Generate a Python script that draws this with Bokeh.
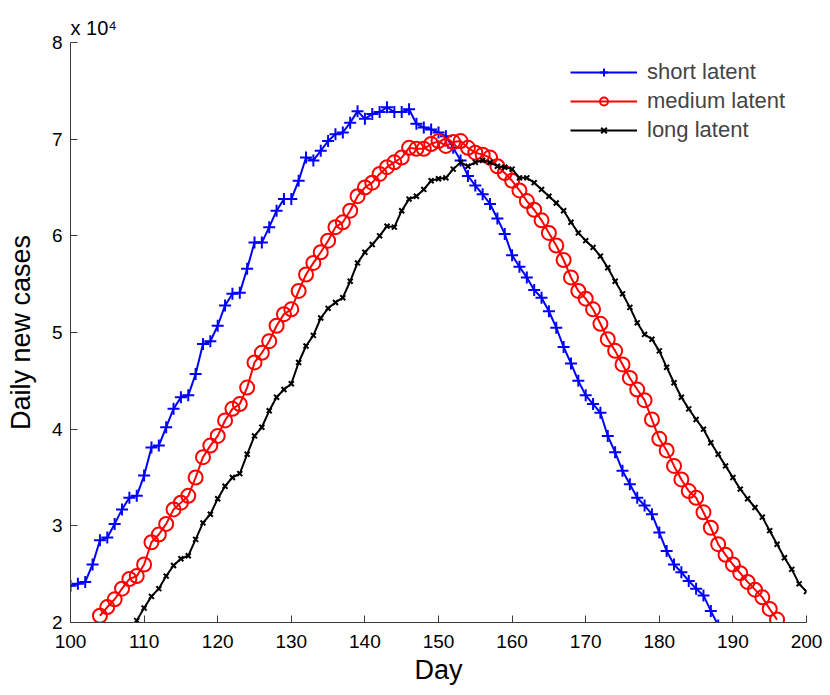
from bokeh.plotting import figure
from bokeh.models import Range1d, FixedTicker, Legend, LegendItem, Title
from bokeh.embed import file_html
from bokeh.resources import INLINE

# ---- data (daily new cases, in units of 10^4) ----
short_days = list(range(100, 189))
short_vals = [2.38, 2.40, 2.42, 2.60, 2.85, 2.88, 3.02, 3.17, 3.29, 3.31,
              3.52, 3.81, 3.83, 4.02, 4.21, 4.33, 4.35, 4.57, 4.88, 4.91,
              5.07, 5.28, 5.40, 5.41, 5.66, 5.93, 5.93, 6.09, 6.26, 6.38,
              6.38, 6.57, 6.81, 6.78, 6.88, 6.98, 7.05, 7.07, 7.17, 7.29,
              7.21, 7.26, 7.28, 7.33, 7.28, 7.28, 7.31, 7.16, 7.12, 7.10,
              7.07, 7.03, 6.91, 6.78, 6.62, 6.52, 6.43, 6.33, 6.18, 6.02,
              5.80, 5.68, 5.57, 5.44, 5.36, 5.22, 5.05, 4.85, 4.68, 4.50,
              4.35, 4.26, 4.17, 3.93, 3.76, 3.57, 3.43, 3.29, 3.21, 3.12,
              2.93, 2.74, 2.60, 2.52, 2.43, 2.35, 2.28, 2.12, 1.97]

medium_days = list(range(104, 197))
medium_vals = [2.07, 2.16, 2.24, 2.35, 2.45, 2.48, 2.60, 2.83, 2.91, 3.02,
               3.17, 3.24, 3.31, 3.50, 3.71, 3.83, 3.93, 4.09, 4.21, 4.26,
               4.43, 4.69, 4.79, 4.91, 5.07, 5.19, 5.24, 5.43, 5.60, 5.72,
               5.83, 5.95, 6.09, 6.14, 6.26, 6.41, 6.50, 6.55, 6.64, 6.71,
               6.76, 6.81, 6.91, 6.90, 6.90, 6.95, 6.98, 6.93, 6.97, 6.98,
               6.91, 6.86, 6.84, 6.81, 6.72, 6.65, 6.57, 6.47, 6.36, 6.27,
               6.16, 6.03, 5.90, 5.75, 5.57, 5.43, 5.35, 5.24, 5.09, 4.93,
               4.81, 4.67, 4.53, 4.41, 4.30, 4.10, 3.90, 3.78, 3.62, 3.48,
               3.36, 3.29, 3.14, 2.98, 2.81, 2.70, 2.60, 2.51, 2.42, 2.34,
               2.26, 2.14, 2.03]

long_days = list(range(109, 201))
long_vals = [2.02, 2.15, 2.27, 2.35, 2.48, 2.59, 2.66, 2.69, 2.86, 3.03,
             3.12, 3.28, 3.41, 3.50, 3.54, 3.74, 3.93, 4.02, 4.19, 4.33,
             4.41, 4.47, 4.69, 4.86, 4.97, 5.15, 5.25, 5.31, 5.36, 5.53,
             5.72, 5.83, 5.91, 6.00, 6.10, 6.09, 6.26, 6.38, 6.41, 6.48,
             6.57, 6.59, 6.60, 6.69, 6.76, 6.72, 6.76, 6.78, 6.76, 6.72,
             6.71, 6.69, 6.60, 6.60, 6.55, 6.48, 6.41, 6.34, 6.26, 6.14,
             6.03, 5.95, 5.88, 5.79, 5.67, 5.53, 5.40, 5.26, 5.10, 4.98,
             4.93, 4.81, 4.64, 4.48, 4.33, 4.21, 4.10, 4.00, 3.86, 3.74,
             3.62, 3.50, 3.38, 3.28, 3.19, 3.09, 2.95, 2.81, 2.67, 2.55,
             2.40, 2.32]

x_ticks = [100, 110, 120, 130, 140, 150, 160, 170, 180, 190, 200]
y_ticks = [2, 3, 4, 5, 6, 7, 8]
series_names = ["short latent", "medium latent", "long latent"]

FONT = "Liberation Sans"

p = figure(width=830, height=695,
           min_border_left=70, min_border_right=24,
           min_border_top=42, min_border_bottom=73,
           x_range=Range1d(100, 200), y_range=Range1d(2, 8),
           output_backend="svg", toolbar_location=None,
           background_fill_color="white", border_fill_color="white")
p.outline_line_color = None
p.grid.visible = False

for ax in (p.xaxis[0], p.yaxis[0]):
    ax.axis_line_color = "#3a3a3a"
    ax.major_tick_line_color = "#3a3a3a"
    ax.major_tick_in = 7
    ax.major_tick_out = 0
    ax.minor_tick_line_color = None
    ax.major_label_text_font = FONT
    ax.major_label_text_font_size = "19px"
    ax.major_label_text_color = "black"
    ax.axis_label_text_font = FONT
    ax.axis_label_text_font_size = "27px"
    ax.axis_label_text_font_style = "normal"
    ax.axis_label_text_color = "black"

p.xaxis.ticker = FixedTicker(ticks=x_ticks)
p.yaxis.ticker = FixedTicker(ticks=y_ticks)
p.xaxis.axis_label = "Day"
p.yaxis.axis_label = "Daily new cases"
p.xaxis.major_label_standoff = 12
p.yaxis.major_label_standoff = 8
p.xaxis.axis_label_standoff = 4
p.yaxis.axis_label_standoff = 13

l1 = p.line(short_days, short_vals, line_color="#0000ff", line_width=2)
m1 = p.scatter(short_days, short_vals, marker="cross", size=12,
               line_color="#0000ff", line_width=2)
l2 = p.line(medium_days, medium_vals, line_color="#ff0000", line_width=2)
m2 = p.scatter(medium_days, medium_vals, marker="circle", size=14,
               line_color="#ff0000", fill_color=None, line_width=2)
l3 = p.line(long_days, long_vals, line_color="black", line_width=2)
m3 = p.scatter(long_days, long_vals, marker="x", size=7,
               line_color="black", line_width=2)

legend = Legend(items=[LegendItem(label=series_names[0], renderers=[l1, m1]),
                       LegendItem(label=series_names[1], renderers=[l2, m2]),
                       LegendItem(label=series_names[2], renderers=[l3, m3])],
                location=(500, 479), orientation="vertical",
                border_line_color=None, background_fill_alpha=0,
                padding=0, spacing=3, glyph_width=67, glyph_height=20,
                label_standoff=10, label_text_font=FONT,
                label_text_font_size="22px", label_height=20)
p.add_layout(legend, "center")

p.add_layout(Title(text="x 10\u2074", align="left", offset=0, standoff=8,
                   text_font=FONT, text_font_size="20px",
                   text_font_style="normal", text_color="black"), "above")

open("out.html", "w").write(file_html(p, INLINE))
